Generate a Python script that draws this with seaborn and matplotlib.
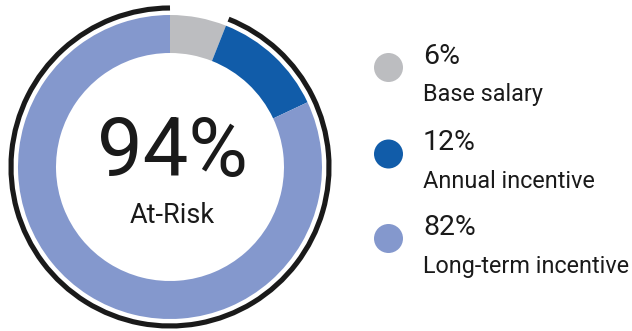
import numpy as np
import matplotlib.pyplot as plt
import seaborn as sns
from matplotlib.patches import Arc, Circle

# data
labels = ["Base salary", "Annual incentive", "Long-term incentive"]
shares = [6, 12, 82]
colors = ["#BCBDC0", "#115CA9", "#8498CD"]
at_risk = 94
center_text = "At-Risk"

sns.set_theme(style="white")
plt.rcParams["font.family"] = ["Roboto", "DejaVu Sans"]

W, H = 632, 331
fig = plt.figure(figsize=(W / 100, H / 100), dpi=100)
ax = fig.add_axes([0, 0, 1, 1])

cx, cy, r = 170, 164, 152
ax.pie(shares, colors=colors, startangle=90, counterclock=False,
       center=(cx, cy), radius=r, frame=True,
       wedgeprops=dict(width=38, linewidth=0))
ax.set_xlim(0, W)
ax.set_ylim(0, H)
ax.set_aspect("equal")
ax.axis("off")

# black arc over the at-risk part (everything except base salary)
start = 90 - 360 * shares[0] / 100
arc = Arc((cx, cy), 2 * 159, 2 * 159, theta1=90, theta2=start + 360,
          color="#1a1a1a", lw=3.7)
ax.add_patch(arc)

ax.text(172, 155, f"{at_risk}%", ha="center", va="baseline", fontsize=58.5,
        color="#1a1a1a")
ax.text(172, 108, center_text, ha="center", va="baseline", fontsize=19.5,
        color="#1a1a1a")

# legend
row_y = [263.5, 177, 92.5]
for lab, v, c, y in zip(labels, shares, colors, row_y):
    ax.add_patch(Circle((388.5, y), 14.5, color=c, lw=0))
    ax.text(423, y + 3.5, f"{v}%", ha="left", va="baseline", fontsize=20.5,
            color="#1a1a1a")
    ax.text(423, y - 34, lab, ha="left", va="baseline", fontsize=16.8,
            color="#1a1a1a")

fig.savefig("out.png", dpi=100)
